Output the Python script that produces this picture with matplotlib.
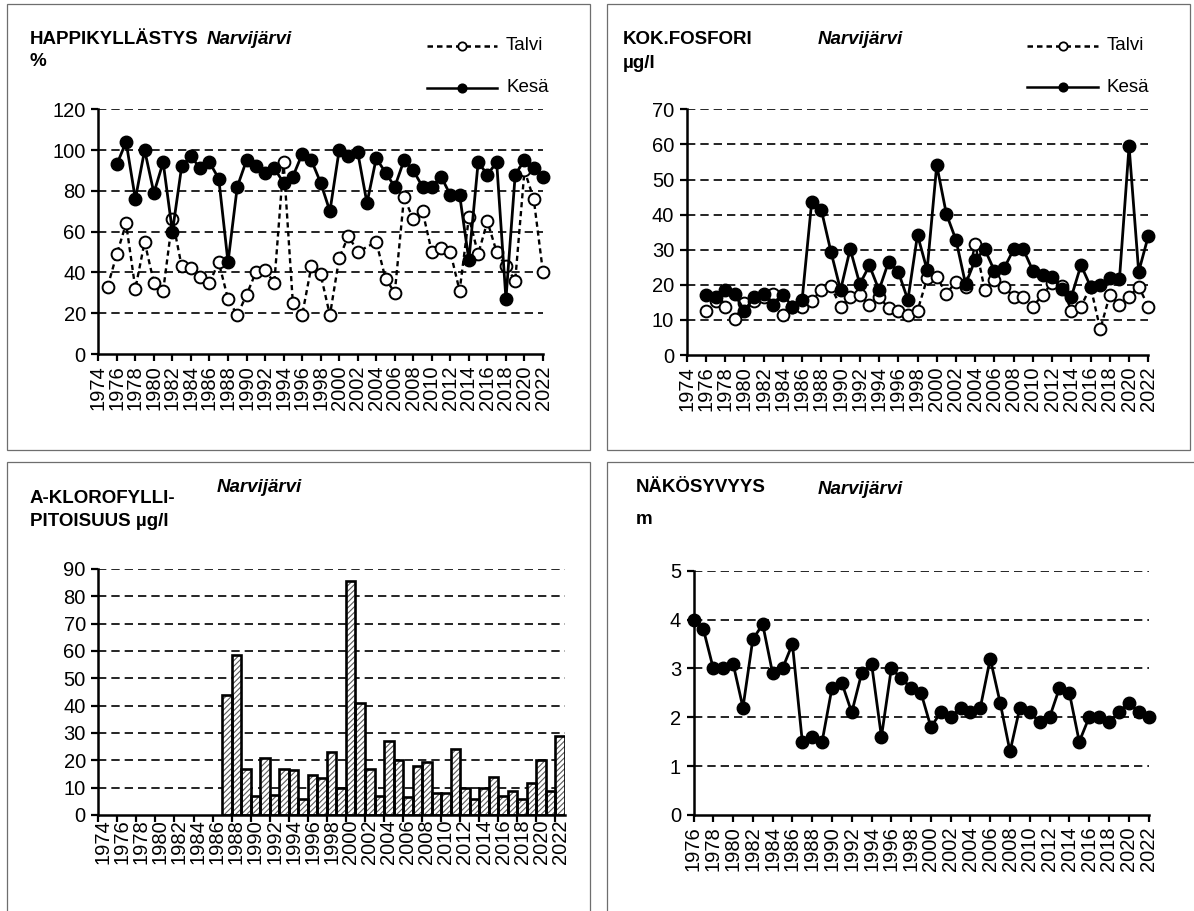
import matplotlib
matplotlib.use("Agg")
import matplotlib.pyplot as plt
import numpy as np
from matplotlib.patches import Rectangle
from matplotlib.lines import Line2D

plt.rcParams['font.family'] = ['Liberation Sans', 'DejaVu Sans']
plt.rcParams['hatch.linewidth'] = 0.8

W, H = 1194, 911

# --- data ---
happi_talvi_years = list(range(1975, 2023))
happi_talvi = [33, 49, 64, 32, 55, 35, 31, 66, 43, 42, 38, 35, 45, 27, 19, 29, 40, 41, 35, 94,
               25, 19, 43, 39, 19, 47, 58, 50, np.nan, 55, 37, 30, 77, 66, 70, 50, 52, 50, 31, 67,
               49, 65, 50, 43, 36, 90, 76, 40]
happi_kesa_years = list(range(1976, 2023))
happi_kesa = [93, 104, 76, 100, 79, 94, 60, 92, 97, 91, 94, 86, 45, 82, 95, 92, 89, 91, 84, 87,
              98, 95, 84, 70, 100, 97, 99, 74, 96, 89, 82, 95, 90, 82, 82, 87, 78, 78, 46, 94,
              88, 94, 27, 88, 95, 91, 87]

fosfori_years = list(range(1976, 2023))
fosfori_talvi = [12.6, 15.5, 13.6, 10.2, 14.7, 15.5, 16.6, 17.3, 11.4, 13.6, 13.6, 15.5, 18.5, 19.7,
                 13.6, 16.6, 17.1, 14.2, 16.6, 13.3, 12.6, 11.4, 12.6, 21.8, 22.3, 17.4, 20.9, 19.5,
                 31.6, 18.5, 21.4, 19.5, 16.6, 16.6, 13.8, 17.1, 20.6, 19.7, 12.6, 13.8, 19.5, 7.3,
                 17.1, 14.2, 16.6, 19.5, 13.8]
fosfori_kesa = [17.1, 16.4, 18.5, 17.3, 12.6, 16.4, 17.3, 14.2, 17.1, 13.8, 15.7, 43.7, 41.3, 29.4,
                18.5, 30.2, 20.2, 25.5, 18.5, 26.6, 23.7, 15.7, 34.2, 24.2, 54.1, 40.2, 32.8, 20.2,
                27.1, 30.1, 24.0, 24.7, 30.1, 30.1, 24.0, 22.8, 22.1, 18.7, 16.6, 25.6, 19.5, 19.9,
                21.8, 21.6, 59.5, 23.7, 33.9]

klorofylli_years = list(range(1987, 2023))
klorofylli = [44, 58.5, 17, 7, 20.7, 7.3, 17, 16.5, 6, 14.6, 13.4, 23, 10, 85.5, 41, 17, 7, 27,
              20, 6.7, 18, 19.3, 8, 8, 24, 10, 6, 9.8, 14, 7, 8.8, 6, 11.8, 20, 8.8, 29]

nako_years = list(range(1976, 2023))
nakosyvyys = [4.0, 3.8, 3.0, 3.0, 3.1, 2.2, 3.6, 3.9, 2.9, 3.0, 3.5, 1.5, 1.6, 1.5, 2.6, 2.7,
              2.1, 2.9, 3.1, 1.6, 3.0, 2.8, 2.6, 2.5, 1.8, 2.1, 2.0, 2.2, 2.1, 2.2, 3.2, 2.3,
              1.3, 2.2, 2.1, 1.9, 2.0, 2.6, 2.5, 1.5, 2.0, 2.0, 1.9, 2.1, 2.3, 2.1, 2.0]

FS = 13.5      # titles / legend
TFS = 14.5     # tick labels
GRID = dict(color='black', lw=1.2, ls=(0, (5, 3)))
TALVI_LS = (0, (2.2, 1.6))

fig = plt.figure(figsize=(W / 100, H / 100), dpi=100)


def px_axes(left, top, right, bottom):
    return fig.add_axes([left / W, 1 - bottom / H, (right - left) / W, (bottom - top) / H])


def box(x0, y0, x1, y1):
    fig.add_artist(Rectangle((x0 / W, 1 - y1 / H), (x1 - x0) / W, (y1 - y0) / H,
                             transform=fig.transFigure, fill=False, ec='#6e6e6e', lw=0.9))


def ftext(x, y, s, **kw):
    fig.text(x / W, 1 - y / H, s, ha='left', va='center', fontsize=FS, **kw)


def legend_item(x0, x1, y, label, ls, mfc):
    fig.add_artist(Line2D([x0 / W, x1 / W], [1 - y / H] * 2, color='black', lw=1.8, ls=ls,
                          transform=fig.transFigure))
    fig.add_artist(Line2D([(x0 + x1) / 2 / W], [1 - y / H], marker='o', ms=6, mfc=mfc,
                          mec='black', mew=1.3, transform=fig.transFigure))
    ftext(x1 + 9, y, label)


def style(ax, ymax, ystep):
    ax.set_ylim(0, ymax)
    ticks = np.arange(0, ymax + 1e-9, ystep)
    ax.set_yticks(ticks)
    ax.set_yticklabels([f"{t:g}" for t in ticks])
    for t in ticks[1:]:
        ax.axhline(t, zorder=0, **GRID)
    for s in ['top', 'right']:
        ax.spines[s].set_visible(False)
    for s in ['left', 'bottom']:
        ax.spines[s].set_linewidth(1.8)
    ax.tick_params(axis='y', length=5, width=1.6, labelsize=TFS, pad=4)
    ax.tick_params(axis='x', which='both', width=1.6, labelsize=TFS, labelrotation=90, pad=3)


def line_panel(ax, x0, x1):
    ax.set_xlim(x0, x1)
    ax.set_xticks(range(x0, x1 + 1, 2))
    ax.tick_params(axis='x', length=5)


def plot_series(ax, years, vals, filled):
    y = np.array(vals, dtype=float)
    x = np.array(years)
    ok = ~np.isnan(y)
    if filled:
        ax.plot(x[ok], y[ok], color='black', lw=2.0, marker='o', ms=9, mfc='black', mec='black',
                clip_on=False, zorder=4)
    else:
        ax.plot(x[ok], y[ok], color='black', lw=1.7, ls=TALVI_LS, marker='o', ms=8.5,
                mfc='white', mec='black', mew=1.4, clip_on=False, zorder=3)


# ---- boxes ----
box(7, 4, 590, 450)
box(607, 4, 1190, 450)
box(7, 462, 590, 930)
box(607, 462, 1220, 930)

# ---- HAPPIKYLLÄSTYS ----
ax1 = px_axes(98.3, 109.3, 543, 354)
style(ax1, 120, 20)
line_panel(ax1, 1974, 2022)
plot_series(ax1, happi_talvi_years, happi_talvi, False)
plot_series(ax1, happi_kesa_years, happi_kesa, True)
ftext(30, 40, "HAPPIKYLLÄSTYS", fontweight='bold')
ftext(30, 62, "%", fontweight='bold')
ftext(207, 40, "Narvijärvi", fontweight='bold', style='italic')
legend_item(427, 497, 46, "Talvi", TALVI_LS, 'white')
legend_item(427, 497, 88, "Kesä", '-', 'black')

# ---- KOK.FOSFORI ----
ax2 = px_axes(686.7, 109.3, 1148.3, 355)
style(ax2, 70, 10)
line_panel(ax2, 1974, 2022)
plot_series(ax2, fosfori_years, fosfori_talvi, False)
plot_series(ax2, fosfori_years, fosfori_kesa, True)
ftext(623, 40, "KOK.FOSFORI", fontweight='bold')
ftext(623, 64, "µg/l", fontweight='bold')
ftext(818, 40, "Narvijärvi", fontweight='bold', style='italic')
legend_item(1027, 1098, 46, "Talvi", TALVI_LS, 'white')
legend_item(1027, 1098, 87, "Kesä", '-', 'black')

# ---- A-KLOROFYLLI ----
ax3 = px_axes(98.3, 569, 565, 815)
style(ax3, 90, 10)
ax3.set_xlim(1973.5, 2022.5)
ax3.set_xticks(range(1974, 2023, 2))
ax3.set_xticks(np.arange(1973.5, 2022, 2), minor=True)
ax3.tick_params(axis='x', which='major', length=0)
ax3.tick_params(axis='x', which='minor', length=5)
ax3.bar(klorofylli_years, klorofylli, width=1.0, color='white', hatch='//////',
        edgecolor='#5a5a5a', lw=0, zorder=2)
ax3.bar(klorofylli_years, klorofylli, width=1.0, fill=False, edgecolor='black', lw=1.9, zorder=3)
ftext(30, 499, "A-KLOROFYLLI-", fontweight='bold')
ftext(30, 522, "PITOISUUS µg/l", fontweight='bold')
ftext(217, 487, "Narvijärvi", fontweight='bold', style='italic')

# ---- NÄKÖSYVYYS ----
ax4 = px_axes(693.5, 570.7, 1148.5, 815)
style(ax4, 5, 1)
line_panel(ax4, 1976, 2022)
plot_series(ax4, nako_years, nakosyvyys, True)
ftext(636, 487, "NÄKÖSYVYYS", fontweight='bold')
ftext(636, 520, "m", fontweight='bold')
ftext(818, 489, "Narvijärvi", fontweight='bold', style='italic')

fig.savefig("out.png", dpi=100)
